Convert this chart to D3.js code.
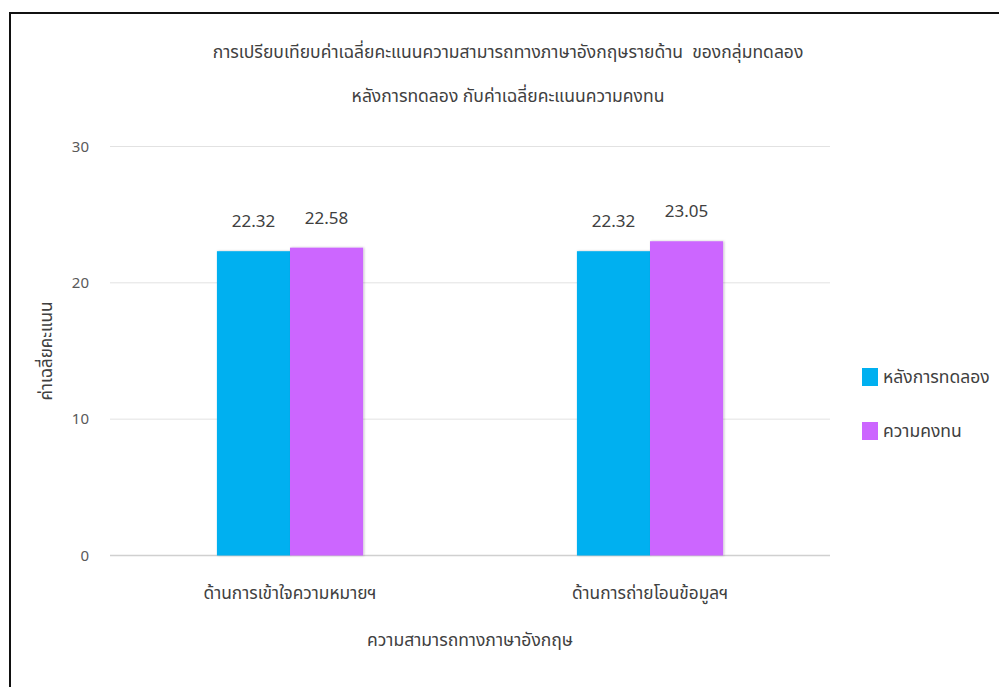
<!DOCTYPE html>
<html>
<head>
<meta charset="utf-8">
<script src="https://cdn.jsdelivr.net/npm/d3@7"></script>
<style>
  html, body { margin: 0; padding: 0; background: #fff; }
  svg { display: block; }
  text { font-family: "Noto Sans Thai", "Noto Sans", "Open Sans", sans-serif; white-space: pre; }
</style>
</head>
<body>
<svg id="chart" width="999" height="687"></svg>
<script>
// Data
const categories = ["ด้านการเข้าใจความหมายฯ", "ด้านการถ่ายโอนข้อมูลฯ"];
const seriesNames = ["หลังการทดลอง", "ความคงทน"];
const afterExperiment = [22.32, 22.32];
const retention = [22.58, 23.05];
const yTicks = [0, 10, 20, 30];
const titleLines = [
  "การเปรียบเทียบค่าเฉลี่ยคะแนนความสามารถทางภาษาอังกฤษรายด้าน  ของกลุ่มทดลอง",
  "หลังการทดลอง กับค่าเฉลี่ยคะแนนความคงทน"
];
const xTitle = "ความสามารถทางภาษาอังกฤษ";
const yTitle = "ค่าเฉลี่ยคะแนน";
const colors = ["#00B0F0", "#CC66FF"];

const seriesValues = [afterExperiment, retention];

const svg = d3.select("#chart");

// Frame around the chart area
svg.append("rect")
  .attr("x", 10).attr("y", 13)
  .attr("width", 1000).attr("height", 700)
  .attr("fill", "none").attr("stroke", "#111").attr("stroke-width", 2);

const plot = { left: 110, right: 830, top: 146.5, bottom: 555.5 };

const x0 = d3.scaleBand().domain(categories)
  .range([plot.left, plot.right])
  .paddingInner(0.594).paddingOuter(0.297);
const x1 = d3.scaleBand().domain(seriesNames)
  .range([0, x0.bandwidth()]);
const y = d3.scaleLinear().domain([0, 30]).range([plot.bottom, plot.top]);

// Gridlines
svg.append("g")
  .selectAll("line").data(yTicks).join("line")
  .attr("x1", plot.left).attr("x2", plot.right)
  .attr("y1", d => y(d)).attr("y2", d => y(d))
  .attr("stroke", d => d === 0 ? "#d0d0d0" : "#e2e2e2")
  .attr("stroke-width", d => d === 0 ? 1.5 : 1);

// Y axis labels
const yAxis = d3.axisLeft(y).tickValues(yTicks).tickSize(0).tickPadding(0);
const gy = svg.append("g").attr("transform", `translate(${plot.left - 21},0)`).call(yAxis);
gy.select(".domain").remove();
gy.selectAll("text")
  .attr("fill", "#595959").attr("font-size", 15)
  .style("font-family", "\"Noto Sans\", sans-serif");

// Soft shadow for bars
const defs = svg.append("defs");
const f = defs.append("filter").attr("id", "shadow")
  .attr("x", "-10%").attr("y", "-10%").attr("width", "130%").attr("height", "120%");
f.append("feDropShadow").attr("dx", 1).attr("dy", 0).attr("stdDeviation", 1.3)
  .attr("flood-color", "#000").attr("flood-opacity", 0.25);

// Bars
const rows = categories.map((c, i) => ({
  cat: c,
  vals: seriesNames.map((s, j) => ({ s, j, v: seriesValues[j][i] }))
}));

const groups = svg.append("g").selectAll("g").data(rows).join("g")
  .attr("transform", d => `translate(${x0(d.cat)},0)`);

groups.selectAll("rect").data(d => d.vals).join("rect")
  .attr("x", d => x1(d.s))
  .attr("y", d => y(d.v))
  .attr("width", x1.bandwidth())
  .attr("height", d => y(0) - y(d.v))
  .attr("fill", d => colors[d.j])
  .attr("filter", "url(#shadow)");

// Value labels
groups.selectAll("text.val").data(d => d.vals).join("text")
  .attr("class", "val")
  .attr("x", d => x1(d.s) + x1.bandwidth() / 2)
  .attr("y", d => y(d.v) - 24)
  .attr("text-anchor", "middle")
  .attr("font-size", 17)
  .attr("fill", "#404040")
  .style("font-family", "\"Noto Sans\", sans-serif")
  .text(d => d.v.toFixed(2));

// Category labels
const xAxis = d3.axisBottom(x0).tickSize(0).tickPadding(0);
const gx = svg.append("g").attr("transform", `translate(0,${plot.bottom + 43})`).call(xAxis);
gx.select(".domain").remove();
gx.selectAll("text").attr("fill", "#404040").attr("font-size", 17.3).attr("dy", 0);

// Axis titles
svg.append("text")
  .attr("x", (plot.left + plot.right) / 2).attr("y", 646)
  .attr("text-anchor", "middle").attr("font-size", 17.5).attr("fill", "#404040")
  .text(xTitle);

svg.append("text")
  .attr("transform", `translate(52,351) rotate(-90)`)
  .attr("text-anchor", "middle").attr("font-size", 17).attr("fill", "#404040")
  .text(yTitle);

// Title
svg.append("g").selectAll("text").data(titleLines).join("text")
  .attr("x", 508).attr("y", (d, i) => 58 + i * 44)
  .attr("text-anchor", "middle").attr("font-size", 17.5).attr("fill", "#404040")
  .text(d => d);

// Legend
const legend = svg.append("g").selectAll("g").data(seriesNames).join("g")
  .attr("transform", (d, i) => `translate(862,${368 + i * 54})`);
legend.append("rect").attr("width", 16).attr("height", 18)
  .attr("fill", (d, i) => colors[i]);
legend.append("text").attr("x", 21).attr("y", 15)
  .attr("font-size", 17.5).attr("fill", "#404040").text(d => d);
</script>
</body>
</html>
